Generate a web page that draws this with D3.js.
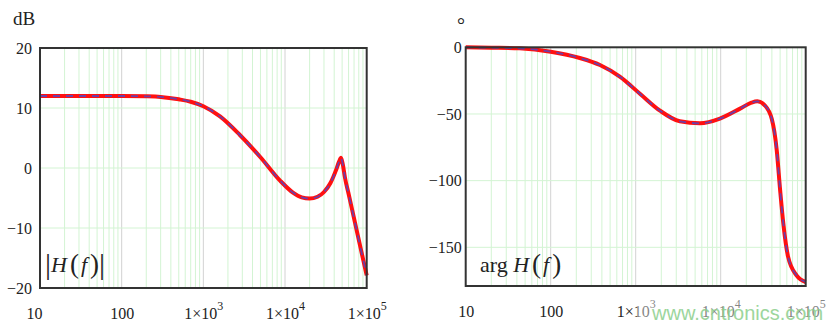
<!DOCTYPE html>
<html><head><meta charset="utf-8">
<script src="https://cdn.jsdelivr.net/npm/d3@7"></script>
<style>
html,body{margin:0;padding:0;background:#fff;}
svg{display:block;font-family:"Liberation Serif","Times New Roman",serif;}
</style></head>
<body>
<svg id="c" width="837" height="331"></svg>
<script>
// ---- data ----
const magFreq = [10, 100, 200, 300, 500, 700, 1000, 1600, 2800, 5000, 8700, 12500, 16000, 20000, 25000, 30000, 36000, 42000, 46000, 48500, 51000, 54000, 60000, 70000, 85000, 100000];
const magDb   = [12, 12, 11.95, 11.85, 11.45, 11.05, 10.3, 8.6, 5.5, 1.8, -2.1, -4.1, -4.9, -5.1, -4.8, -4.0, -2.5, -0.4, 1.1, 1.7, 0.6, -1.5, -4.3, -8.4, -13.6, -17.9];
const phFreq  = [10, 20, 43, 100, 220, 380, 650, 1130, 1930, 3300, 5700, 9800, 16900, 23000, 27000, 33000, 40000, 45600, 50000, 54500, 62000, 78000, 100000];
const phDeg   = [0, -0.3, -0.8, -3.3, -8, -13.3, -22, -35, -47.5, -55.5, -57, -53.5, -46, -41.5, -40.5, -43.5, -54, -77, -107, -132, -157, -171, -176];
const xTicks = [10, 100, 1000, 10000, 100000];
const xTickLabels = ["10", "100", "1×10|3", "1×10|4", "1×10|5"];
const magTicks = [20, 10, 0, -10, -20];
const phTicks = [0, -50, -100, -150];

const svg = d3.select("#c");

function panel(o) {
  const g = svg.append("g");
  const x = d3.scaleLog().domain([10, 1e5]).range([o.x0, o.x1]);
  const y = d3.scaleLinear().domain(o.yDom).range([o.y1, o.y0]);
  const minors = [];
  [10, 100, 1000, 10000].forEach(d => { for (let k = 2; k <= 9; k++) minors.push(d * k); });
  g.selectAll(".mn").data(minors).enter().append("line")
    .attr("x1", d => x(d)).attr("x2", d => x(d)).attr("y1", o.y0).attr("y2", o.y1)
    .attr("stroke", "#d3f4d3").attr("stroke-width", 1);
  g.selectAll(".mj").data([100, 1000, 10000]).enter().append("line")
    .attr("x1", d => x(d)).attr("x2", d => x(d)).attr("y1", o.y0).attr("y2", o.y1)
    .attr("stroke", "#d2d2d2").attr("stroke-width", 1);
  g.selectAll(".hg").data(o.yTicks).enter().append("line")
    .attr("x1", o.x0).attr("x2", o.x1).attr("y1", d => y(d)).attr("y2", d => y(d))
    .attr("stroke", "#d3f4d3").attr("stroke-width", 1);
  const line = d3.line().x(d => x(d[0])).y(d => y(d[1])).curve(d3.curveMonotoneX);
  const pts = o.fx.map((f, i) => [f, o.fy[i]]);
  g.append("path").attr("d", line(pts)).attr("fill", "none")
    .attr("stroke", "#ff1010").attr("stroke-width", 4).attr("stroke-linejoin", "round");
  g.append("path").attr("d", line(pts)).attr("fill", "none")
    .attr("stroke", "#6f3da6").attr("stroke-width", 1.8).attr("stroke-dasharray", "7,6");
  g.append("rect").attr("x", o.x0).attr("y", o.y0).attr("width", o.x1 - o.x0).attr("height", o.y1 - o.y0)
    .attr("fill", "none").attr("stroke", "#333").attr("stroke-width", 2);
  const ya = g.append("g").attr("transform", `translate(${o.x0},0)`)
    .call(d3.axisLeft(y).tickValues(o.yTicks).tickSize(0).tickPadding(o.yPad)
      .tickFormat(d => d < 0 ? "−" + Math.abs(d) : String(d)));
  ya.select(".domain").remove();
  ya.selectAll("text").attr("font-family", "Liberation Serif, Times New Roman, serif")
    .attr("font-size", 16).attr("fill", "#222");
  const xa = g.append("g").attr("transform", `translate(0,${o.y1})`)
    .call(d3.axisBottom(x).tickValues(xTicks).tickSize(0).tickFormat(""));
  xa.select(".domain").remove();
  xa.selectAll(".tick").each(function (d, i) {
    const t = d3.select(this).select("text");
    t.attr("y", 31).attr("dy", null).attr("font-family", "Liberation Serif, Times New Roman, serif")
      .attr("font-size", 16).attr("fill", "#222").attr("text-anchor", "middle");
    if (i === 0) t.attr("x", o.firstDx);
    const parts = xTickLabels[i].split("|");
    t.text(null);
    t.append("tspan").text(parts[0]);
    if (parts[1]) t.append("tspan").attr("dy", -9).attr("font-size", 12).text(parts[1]);
  });
  return g;
}

panel({ x0: 40, x1: 366.7, y0: 48, y1: 288, yDom: [-20, 20], yTicks: magTicks, yPad: 8, fx: magFreq, fy: magDb, firstDx: -6 });
panel({ x0: 465.7, x1: 805.7, y0: 47.3, y1: 286, yDom: [-179, 0], yTicks: phTicks, yPad: 4, fx: phFreq, fy: phDeg, firstDx: 0 });

svg.append("text").attr("x", 13).attr("y", 25).attr("font-size", 19).attr("fill", "#222").text("dB");
svg.append("text").attr("x", 457).attr("y", 32).attr("font-size", 20).attr("fill", "#222").text("°");

function fLabel(x, prefix, bars) {
  const t = svg.append("text").attr("x", x).attr("y", 272).attr("font-size", 22).attr("fill", "#222");
  if (bars) t.append("tspan").attr("font-size", 30).attr("dy", 2).text("|");
  if (prefix) t.append("tspan").text(prefix);
  t.append("tspan").attr("font-style", "italic").attr("dy", bars ? -2 : 0).text("H");
  t.append("tspan").attr("font-size", 27).attr("dx", 3).attr("dy", 1).text("(");
  t.append("tspan").attr("font-style", "italic").attr("dx", 2).attr("dy", -1).text("f");
  t.append("tspan").attr("font-size", 27).attr("dx", 3).attr("dy", 1).text(")");
  if (bars) t.append("tspan").attr("font-size", 30).attr("dy", 1).text("|");
}
fLabel(45, null, true);
fLabel(480, "arg ", false);

svg.append("rect").attr("x", 637).attr("y", 298).attr("width", 200).attr("height", 33).attr("fill", "#fff").attr("opacity", 0.45);
svg.append("text").attr("x", 652).attr("y", 320).attr("font-family", "Liberation Sans, Arial, sans-serif")
  .attr("font-size", 20).attr("fill", "#8ccf8c").attr("opacity", 0.85).text("www.cntronics.com");
</script>
</body></html>
